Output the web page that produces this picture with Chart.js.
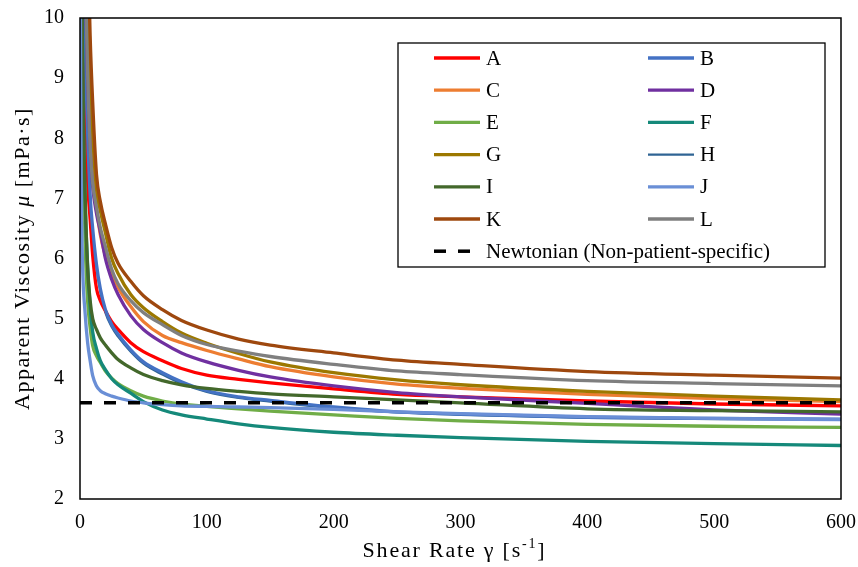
<!DOCTYPE html>
<html>
<head>
<meta charset="utf-8">
<script src="https://cdn.jsdelivr.net/npm/chart.js@4"></script>
<style>
  body { margin: 0; background: #fff; }
  #wrap { width: 858px; height: 567px; }
</style>
</head>
<body>
<div id="wrap"><canvas id="viscChart"></canvas></div>
<script>
const shearRate = [0.2, 0.5, 1, 2, 4, 6, 8, 10, 13, 16, 20, 25, 30, 40, 50, 65, 80, 100, 125, 150, 200, 250, 300, 400, 500, 600];

// apparent viscosity [mPa.s] per case
const caseA = [30, 21, 16, 11.5, 8.9, 7.3, 6.65, 6.05, 5.5, 5.3, 5.13, 4.95, 4.82, 4.6, 4.45, 4.3, 4.17, 4.06, 3.99, 3.93, 3.83, 3.74, 3.7, 3.63, 3.58, 3.55];
const caseB = [35, 25, 19, 14, 9.9, 8.1, 7.05, 6.5, 5.9, 5.5, 5.15, 4.9, 4.74, 4.48, 4.28, 4.1, 3.95, 3.8, 3.7, 3.64, 3.53, 3.45, 3.41, 3.36, 3.34, 3.33];
const caseC = [45, 30, 23, 16.5, 11.8, 9.6, 8.3, 7.45, 6.85, 6.4, 6.05, 5.75, 5.52, 5.2, 4.95, 4.72, 4.6, 4.47, 4.33, 4.2, 4.03, 3.91, 3.84, 3.74, 3.67, 3.62];
const caseD = [40, 28, 22, 15.5, 11, 9.0, 7.9, 7.2, 6.75, 6.45, 6.0, 5.65, 5.4, 5.05, 4.82, 4.6, 4.43, 4.28, 4.14, 4.03, 3.88, 3.77, 3.7, 3.59, 3.48, 3.41];
const caseE = [22, 15, 11, 8.6, 6.3, 5.3, 4.85, 4.55, 4.38, 4.27, 4.13, 4.01, 3.92, 3.8, 3.71, 3.63, 3.58, 3.54, 3.5, 3.46, 3.4, 3.34, 3.3, 3.24, 3.21, 3.19];
const caseF = [25, 17, 13, 9.5, 7.0, 5.9, 5.2, 4.78, 4.5, 4.3, 4.15, 4.0, 3.9, 3.76, 3.62, 3.48, 3.4, 3.33, 3.25, 3.19, 3.11, 3.06, 3.02, 2.96, 2.92, 2.89];
const caseG = [60, 38, 28, 19, 13, 10.9, 9.25, 8.1, 7.15, 6.8, 6.43, 6.0, 5.75, 5.4, 5.18, 4.95, 4.76, 4.59, 4.42, 4.28, 4.1, 3.98, 3.9, 3.79, 3.71, 3.65];
const caseH = [34, 24, 18.5, 13.6, 9.8, 8.0, 7.0, 6.45, 5.85, 5.45, 5.1, 4.86, 4.7, 4.45, 4.25, 4.07, 3.92, 3.78, 3.68, 3.62, 3.51, 3.44, 3.4, 3.35, 3.33, 3.32];
const caseI = [20, 14.5, 12, 9.3, 7.1, 5.85, 5.3, 5.0, 4.82, 4.68, 4.56, 4.43, 4.32, 4.18, 4.07, 3.97, 3.9, 3.84, 3.79, 3.75, 3.7, 3.65, 3.6, 3.5, 3.47, 3.45];
const caseJ = [12, 9.0, 7.2, 5.9, 5.1, 4.6, 4.3, 4.05, 3.88, 3.8, 3.75, 3.71, 3.68, 3.63, 3.6, 3.57, 3.55, 3.54, 3.53, 3.52, 3.49, 3.45, 3.42, 3.37, 3.34, 3.32];
const caseK = [60, 42, 30, 20.8, 14.2, 11.4, 9.7, 8.6, 7.4, 6.95, 6.58, 6.18, 5.92, 5.62, 5.38, 5.15, 4.97, 4.81, 4.66, 4.56, 4.43, 4.31, 4.24, 4.12, 4.06, 4.01];
const caseL = [40, 28, 22, 15.5, 11.2, 9.1, 7.85, 7.25, 6.85, 6.52, 6.2, 5.82, 5.58, 5.3, 5.1, 4.9, 4.72, 4.57, 4.46, 4.37, 4.24, 4.13, 4.07, 3.97, 3.92, 3.88];

// newtonian reference viscosity
const newtonianX = [0, 600];
const newtonianY = [3.6, 3.6];

const yTicks = [2, 3, 4, 5, 6, 7, 8, 9, 10];

const serif = '"Liberation Serif", "Times New Roman", serif';

function pts(xs, ys) {
    return xs.map((x, i) => ({ x: x, y: ys[i] }));
}

function series(label, values, color, width, order) {
    return {
        label: label,
        data: pts(shearRate, values),
        borderColor: color,
        borderWidth: width,
        pointRadius: 0,
        cubicInterpolationMode: 'monotone',
        fill: false,
        order: order
    };
}

const datasets = [
    series('A', caseA, '#ff0000', 3.3, 12),
    series('B', caseB, '#4472c4', 3.3, 10),
    series('C', caseC, '#ed7d31', 3.3, 11),
    series('D', caseD, '#7030a0', 3.3, 9),
    series('E', caseE, '#70ad47', 3.3, 8),
    series('F', caseF, '#15897a', 3.3, 7),
    series('G', caseG, '#9c7800', 3.3, 6),
    series('H', caseH, '#2f6494', 2.2, 13),
    series('I', caseI, '#43682b', 3.3, 4),
    series('J', caseJ, '#6a8fd6', 3.3, 3),
    series('K', caseK, '#9e480e', 3.3, 2),
    series('L', caseL, '#7f7f7f', 3.3, 1),
    {
        label: 'Newtonian (Non-patient-specific)',
        data: pts(newtonianX, newtonianY),
        borderColor: '#000',
        borderWidth: 3.5,
        borderDash: [12, 12],
        borderCapStyle: 'butt',
        pointRadius: 0,
        fill: false,
        order: 0
    }
];

// frame, axis titles and the two-column legend box
const extras = {
    id: 'extras',
    afterDraw(chart) {
        const ctx = chart.ctx;
        const a = chart.chartArea;
        ctx.save();
        ctx.strokeStyle = '#000';
        ctx.lineWidth = 1.5;
        ctx.strokeRect(a.left, a.top, a.right - a.left, a.bottom - a.top);

        // x title
        ctx.fillStyle = '#000';
        ctx.textBaseline = 'alphabetic';
        ctx.letterSpacing = '1.8px';
        const big = '22px ' + serif, small = '14px ' + serif;
        ctx.font = big;
        const p1 = 'Shear Rate γ [s';
        const w1 = ctx.measureText(p1).width;
        ctx.font = small;
        const w2 = ctx.measureText('-1').width;
        ctx.font = big;
        const w3 = ctx.measureText(']').width;
        let x0 = (a.left + a.right) / 2 - 6 - (w1 + w2 + w3) / 2;
        const yb = 557;
        ctx.textAlign = 'left';
        ctx.fillText(p1, x0, yb);
        ctx.font = small;
        ctx.fillText('-1', x0 + w1, yb - 9);
        ctx.font = big;
        ctx.fillText(']', x0 + w1 + w2, yb);

        // y title
        ctx.letterSpacing = '1.5px';
        ctx.translate(29, (a.top + a.bottom) / 2);
        ctx.rotate(-Math.PI / 2);
        const parts = [['Apparent Viscosity ', ''], ['μ', 'italic '], [' [mPa·s]', '']];
        let tw = 0;
        parts.forEach(p => { ctx.font = p[1] + big; tw += ctx.measureText(p[0]).width; });
        let cx = -tw / 2;
        parts.forEach(p => {
            ctx.font = p[1] + big;
            ctx.fillText(p[0], cx, 0);
            cx += ctx.measureText(p[0]).width;
        });
        ctx.restore();

        // legend
        ctx.save();
        const bx = a.left + 318, by = a.top + 25, bw = 427, bh = 224;
        ctx.fillStyle = '#fff';
        ctx.fillRect(bx, by, bw, bh);
        ctx.strokeStyle = '#000';
        ctx.lineWidth = 1.3;
        ctx.strokeRect(bx, by, bw, bh);
        ctx.font = '21px ' + serif;
        ctx.textBaseline = 'middle';
        ctx.textAlign = 'left';
        chart.data.datasets.forEach((ds, i) => {
            const col = i < 12 ? i % 2 : 0;
            const row = i < 12 ? Math.floor(i / 2) : 6;
            const lx = bx + 36 + col * 214;
            const ly = by + 15 + row * 32.2;
            ctx.strokeStyle = ds.borderColor;
            ctx.lineWidth = ds.borderWidth;
            ctx.setLineDash(ds.borderDash || []);
            ctx.beginPath();
            ctx.moveTo(lx, ly);
            ctx.lineTo(lx + 46, ly);
            ctx.stroke();
            ctx.setLineDash([]);
            ctx.fillStyle = '#000';
            ctx.fillText(ds.label, lx + 52, ly + 1);
        });
        ctx.restore();
    }
};

new Chart(document.getElementById('viscChart'), {
    type: 'line',
    data: { datasets: datasets },
    options: {
        responsive: true,
        maintainAspectRatio: false,
        animation: false,
        layout: { padding: { left: 0, right: 17, top: 18, bottom: 0 } },
        plugins: {
            legend: { display: false },
            tooltip: { enabled: false }
        },
        scales: {
            x: {
                type: 'linear',
                min: 0,
                max: 600,
                grid: { display: false, drawTicks: false },
                border: { display: false },
                ticks: {
                    stepSize: 100,
                    padding: 12,
                    color: '#000',
                    maxRotation: 0,
                    font: { family: serif, size: 20 }
                },
                afterFit(scale) {
                    scale.height = 68;
                    scale.paddingLeft = 0;
                    scale.paddingRight = 0;
                }
            },
            y: {
                type: 'linear',
                min: 2,
                max: 10,
                grid: { display: false, drawTicks: false },
                border: { display: false },
                afterBuildTicks(scale) { scale.ticks = yTicks.map(v => ({ value: v })); },
                ticks: {
                    padding: 16,
                    color: '#000',
                    font: { family: serif, size: 20 }
                },
                afterFit(scale) {
                    scale.width = 80;
                    scale.paddingTop = 0;
                    scale.paddingBottom = 0;
                }
            }
        }
    },
    plugins: [extras]
});
</script>
</body>
</html>
